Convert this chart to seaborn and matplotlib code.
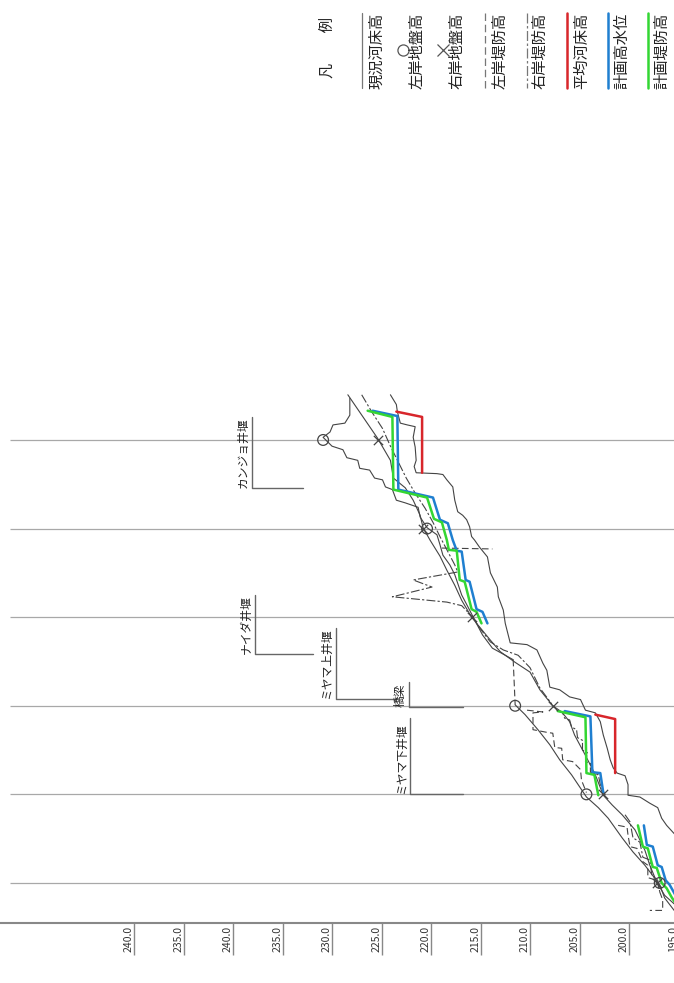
import numpy as np
import pandas as pd
import matplotlib
matplotlib.use("Agg")
import matplotlib.pyplot as plt
from matplotlib.lines import Line2D
import seaborn as sns

nan = np.nan

#%%
# 標高軸（目盛ラベルは図のとおり）と距離の区切り線
elev_ticks = [250, 245, 240, 235, 230, 225, 220, 215, 210, 205, 200, 195]
elev_labels = ['240.0', '235.0', '240.0', '235.0', '230.0', '225.0',
               '220.0', '215.0', '210.0', '205.0', '200.0', '195.0']
grid_dist = [1, 2, 3, 4, 5, 6]

# 計画堤防高
plan_levee_elev = [226.4, 223.9, 223.8, 220.4, 219.7, 218.9, 218.4, 218.2, 217.4, 217.1, 216.6, 215.9, 215.4, 214.9, nan,
                   207.2, 204.4, 204.3, 203.5, 203.1, nan,
                   199.1, 198.6, 198.1, 197.6, 197.2, 196.7, 196.2, 195.7, 195.3]
plan_levee_dist = [6.33, 6.26, 5.44, 5.35, 5.11, 5.07, 4.87, 4.76, 4.75, 4.42, 4.40, 4.09, 4.06, 3.93, nan,
                   2.94, 2.87, 2.24, 2.22, 1.99, nan,
                   1.65, 1.41, 1.39, 1.18, 1.17, 1.00, 0.94, 0.84, 0.77]

# 計画高水位
hwl_elev = [225.9, 223.4, 223.3, 219.8, 219.1, 218.3, 217.8, 217.4, 216.9, 216.5, 216.1, 215.4, 214.8, 214.3, nan,
            206.5, 203.9, 203.7, 202.9, 202.6, nan,
            198.5, 198.2, 197.6, 197.1, 196.7, 196.3, 195.9, 195.3]
hwl_dist = [6.33, 6.27, 5.44, 5.35, 5.10, 5.06, 4.87, 4.75, 4.74, 4.42, 4.40, 4.09, 4.06, 3.93, nan,
            2.94, 2.88, 2.25, 2.24, 2.02, nan,
            1.65, 1.43, 1.41, 1.20, 1.18, 1.03, 0.98, 0.86]

# 平均河床高
mean_bed_elev = [223.5, 220.9, 220.9, nan, 203.4, 201.4, 201.4]
mean_bed_dist = [6.32, 6.26, 5.63, nan, 2.90, 2.85, 2.24]

# 現況河床高
bed_elev = [224.1, 223.5, 223.4, 223.1, 222.4, 221.6, 221.8, 221.6, 221.5, 221.7, 221.5, 219.4, 218.8, 218.4,
            217.8, 217.6, 217.3, 216.8, 216.4, 216.1, 215.9, 215.6, 215.1, 214.3, 214.0, 213.3, 213.2, 212.7,
            212.5, 212.0, 210.3, 209.3, 208.7, 208.3, 208.0, 207.0, 206.0, 204.9, 204.4, 203.4, 202.9, 202.6,
            202.2, 201.9, 201.6, 201.2, 200.4, 200.1, 200.1, 198.9, 197.9, 197.1, 196.7, 196.2, 195.3]
bed_dist = [6.51, 6.40, 6.32, 6.19, 6.17, 6.15, 6.03, 5.92, 5.77, 5.70, 5.63, 5.62, 5.61, 5.55,
            5.47, 5.32, 5.19, 5.15, 5.10, 5.02, 4.91, 4.87, 4.79, 4.68, 4.50, 4.34, 4.23, 4.08,
            3.93, 3.71, 3.69, 3.63, 3.48, 3.40, 3.21, 3.18, 3.10, 3.07, 2.95, 2.92, 2.82, 2.67,
            2.52, 2.39, 2.30, 2.24, 2.21, 2.11, 1.99, 1.97, 1.90, 1.85, 1.73, 1.65, 1.54]

# 右岸地盤高
right_ground_elev = [228.4, 225.4, 224.1, 223.8, 222.6, 221.8, 221.1, 220.8, 220.1, 219.1, 218.4, 217.6, 216.9,
                     215.9, 215.1, 214.0, 213.0, 211.5, 210.0, 209.0, 207.7, 206.8, 206.0, 205.5, 204.4, 203.4,
                     202.6, 201.7, 200.7, 199.4, 198.4, 197.9, 197.2, 196.4, 195.3]
right_ground_dist = [6.51, 6.02, 5.77, 5.57, 5.46, 5.32, 5.15, 5.01, 4.87, 4.69, 4.53, 4.36, 4.19,
                     4.00, 3.89, 3.74, 3.61, 3.49, 3.38, 3.18, 3.00, 2.93, 2.82, 2.67, 2.44, 2.22,
                     1.99, 1.88, 1.77, 1.60, 1.37, 1.20, 1.01, 0.86, 0.75]
right_mark_elev = [225.4, 220.8, 215.9, 207.7, 202.6, 197.2]
right_mark_dist = [6.0, 5.0, 4.0, 3.0, 2.0, 1.0]

# 左岸地盤高
left_ground_elev = [228.2, 228.2, 228.7, 229.9, 230.2, 230.9, 230.0, 228.9, 228.5, 227.4, 227.2, 226.2, 225.7,
                    224.9, 224.6, 223.9, 223.5, 222.6, 221.3, 221.1, 220.4, 219.4, 219.1, 218.8, 218.1, 217.6,
                    216.9, 216.1, 215.6, 214.8, 213.8, 212.5, 211.7, nan,
                    211.5, 210.5, 209.2, 208.0, 207.0, 205.8, 204.3, 203.1, 202.1, 200.7, 199.6, 198.4,
                    196.9, 196.4, 195.3]
left_ground_dist = [6.47, 6.28, 6.19, 6.17, 6.09, 6.03, 5.93, 5.89, 5.80, 5.77, 5.68, 5.66, 5.57,
                    5.55, 5.47, 5.44, 5.32, 5.29, 5.24, 5.13, 5.01, 4.93, 4.82, 4.70, 4.59, 4.48,
                    4.25, 4.08, 3.97, 3.80, 3.65, 3.57, 3.52, nan,
                    3.01, 2.90, 2.73, 2.56, 2.39, 2.22, 1.97, 1.85, 1.73, 1.51, 1.35, 1.20,
                    0.98, 0.83, 0.67]
left_mark_elev = [230.9, 220.4, 211.5, 204.3, 196.9]
left_mark_dist = [6.0, 5.0, 3.0, 2.0, 1.0]

# 左岸堤防高
left_levee_elev = [218.9, 213.8, nan,
                   211.7, 211.5, nan,
                   210.3, 208.7, 209.7, 209.7, 208.3, 207.7, 207.5, 206.8, 206.7, 205.7, 204.9, 204.8, 204.3, nan,
                   201.1, 200.2, 200.1, 199.9, 199.2, 198.6, 198.1, 198.1, 197.2, 196.9, 196.6, 196.6, 197.9]
left_levee_dist = [4.78, 4.77, nan,
                   3.52, 3.01, nan,
                   2.95, 2.93, 2.92, 2.73, 2.70, 2.69, 2.53, 2.52, 2.39, 2.37, 2.28, 2.16, 2.02, nan,
                   1.65, 1.63, 1.54, 1.41, 1.39, 1.24, 1.20, 1.06, 1.03, 0.90, 0.81, 0.69, 0.69]

# 右岸堤防高
right_levee_elev = [227.0, 226.0, 224.9, 224.1, 223.3, 222.5, 221.6, 220.6, 219.8, 219.1, 218.3, 217.6, 217.3,
                    221.8, 219.9, 223.9, 218.4, 216.9, 215.8, 215.1, 214.0, 212.7, 211.2, 210.0, 209.0, 207.8, nan,
                    207.3, 206.7, 206.5, 206.0, 205.8, 205.3, 205.2, 204.7, 204.7, 204.2, 204.4, 203.9, 203.9,
                    203.1, 202.9, 202.4, nan,
                    200.4, 199.9, 199.6, 198.9, 198.6, 197.9, 197.7, 197.1, 196.9]
right_levee_dist = [6.51, 6.32, 6.13, 5.93, 5.75, 5.57, 5.40, 5.23, 5.07, 4.91, 4.74, 4.59, 4.51,
                    4.42, 4.34, 4.23, 4.17, 4.13, 4.00, 3.88, 3.72, 3.63, 3.57, 3.43, 3.20, 3.02, nan,
                    2.95, 2.92, 2.86, 2.84, 2.76, 2.73, 2.64, 2.61, 2.50, 2.47, 2.37, 2.35, 2.25,
                    2.22, 2.11, 1.99, nan,
                    1.77, 1.69, 1.51, 1.46, 1.29, 1.26, 1.09, 1.03, 0.90]

# 井堰・橋梁
weir_names = ['カンジョ井堰', 'ナイダ井堰', 'ミヤマ上井堰', '橋梁', 'ミヤマ下井堰']
weir_dist = [5.46, 3.58, 3.08, 2.99, 2.00]
# 引出線の位置（レイアウト用）
weir_line_x = [238.1, 237.8, 229.6, 222.2, 222.1]
weir_line_end = [232.9, 231.9, 223.4, 216.8, 216.8]
weir_line_top = [6.26, 4.25, 3.88, 3.27, 2.86]


def to_frame(elev, dist):
    # NaN で区切られた区間ごとに番号を振る
    df = pd.DataFrame({'elev': elev, 'dist': dist})
    df['seg'] = df['elev'].isna().cumsum()
    return df.dropna()


#%%
sns.set_theme(style='white')
plt.rcParams['font.family'] = ['Noto Sans CJK JP', 'DejaVu Sans']

W, H = 674, 983
fig = plt.figure(figsize=(W / 100, H / 100), dpi=100)
ax = fig.add_axes([0, 60 / H, 690 / W, 923 / H])
ax.set_xlim(263.535, 193.84)
ax.set_ylim(0.548, 10.966)

ink = '#444444'

# 距離の区切り線
ax.hlines(grid_dist, 262.5, 193.84, color='#a8a8a8', lw=0.9, zorder=1)

line_kw = dict(x='elev', y='dist', units='seg', estimator=None, sort=False, legend=False, ax=ax)
sns.lineplot(data=to_frame(bed_elev, bed_dist), color=ink, lw=0.8, **line_kw)
sns.lineplot(data=to_frame(left_ground_elev, left_ground_dist), color=ink, lw=0.8, **line_kw)
sns.lineplot(data=to_frame(right_ground_elev, right_ground_dist), color=ink, lw=0.8, **line_kw)
sns.lineplot(data=to_frame(left_levee_elev, left_levee_dist), color=ink, lw=0.8,
             linestyle=(0, (6, 3)), **line_kw)
sns.lineplot(data=to_frame(right_levee_elev, right_levee_dist), color=ink, lw=0.8,
             linestyle=(0, (8, 2, 2, 2)), **line_kw)

sns.scatterplot(x=left_mark_elev, y=left_mark_dist, marker='o', s=60, facecolor='none',
                edgecolor=ink, linewidth=0.9, ax=ax, zorder=5)
sns.scatterplot(x=right_mark_elev, y=right_mark_dist, marker='x', s=45, color=ink,
                linewidth=0.9, ax=ax, zorder=5)

sns.lineplot(data=to_frame(mean_bed_elev, mean_bed_dist), color='#d8262b', lw=1.8, **line_kw)
sns.lineplot(data=to_frame(hwl_elev, hwl_dist), color='#1f7fd0', lw=1.8, **line_kw)
sns.lineplot(data=to_frame(plan_levee_elev, plan_levee_dist), color='#33d633', lw=1.8, **line_kw)

# 井堰の引出線と名称
for name, d, x0, x1, top in zip(weir_names, weir_dist, weir_line_x, weir_line_end, weir_line_top):
    ax.plot([x0, x0, x1], [top, d, d], color='#666666', lw=1.0)
    ax.text(x0 + 0.25, d, name, rotation=90, ha='right', va='bottom', fontsize=8.5, color='#222222')

ax.set_xticks(elev_ticks)
ax.set_xticklabels(elev_labels)
ax.set_yticks([])
ax.set_xlabel('')
ax.set_ylabel('')
ax.tick_params(axis='x', bottom=True, length=23, width=1, color='#888888', pad=-21,
               labelsize=7.5, labelcolor='#333333', labelrotation=90)
for lab in ax.get_xticklabels():
    lab.set_ha('right')
for side in ['top', 'left', 'right']:
    ax.spines[side].set_visible(False)
ax.spines['bottom'].set_color('#888888')
ax.spines['bottom'].set_linewidth(1.5)

#%%
# 凡例
def fx(px):
    return px / W


def fy(py):
    return 1 - py / H


fig.text(fx(327), fy(48), '凡　　例', rotation=90, ha='center', va='center', fontsize=11, color='#222222')
legend_items = [
    (362, dict(color='#777777', lw=0.9), None, '現況河床高', 377),
    (403, None, 'o', '左岸地盤高', 417),
    (443, None, 'x', '右岸地盤高', 457),
    (485, dict(color='#777777', lw=0.9, linestyle=(0, (6, 3))), None, '左岸堤防高', 500),
    (527, dict(color='#777777', lw=0.9, linestyle=(0, (8, 2, 2, 2))), None, '右岸堤防高', 540),
    (567, dict(color='#d8262b', lw=1.8), None, '平均河床高', 582),
    (608, dict(color='#1f7fd0', lw=1.8), None, '計画高水位', 622),
    (648, dict(color='#33d633', lw=1.8), None, '計画堤防高', 662),
]
for lx, style, marker, label, tx in legend_items:
    if style is not None:
        fig.add_artist(Line2D([fx(lx), fx(lx)], [fy(13), fy(88)], transform=fig.transFigure, **style))
    else:
        fig.add_artist(Line2D([fx(lx)], [fy(50)], transform=fig.transFigure, marker=marker,
                              markersize=8, markerfacecolor='none', markeredgecolor='#555555',
                              markeredgewidth=0.9, linestyle='none'))
    fig.text(fx(tx), fy(51), label, rotation=90, ha='center', va='center', fontsize=11, color='#222222')

fig.savefig('out.png', dpi=100)
